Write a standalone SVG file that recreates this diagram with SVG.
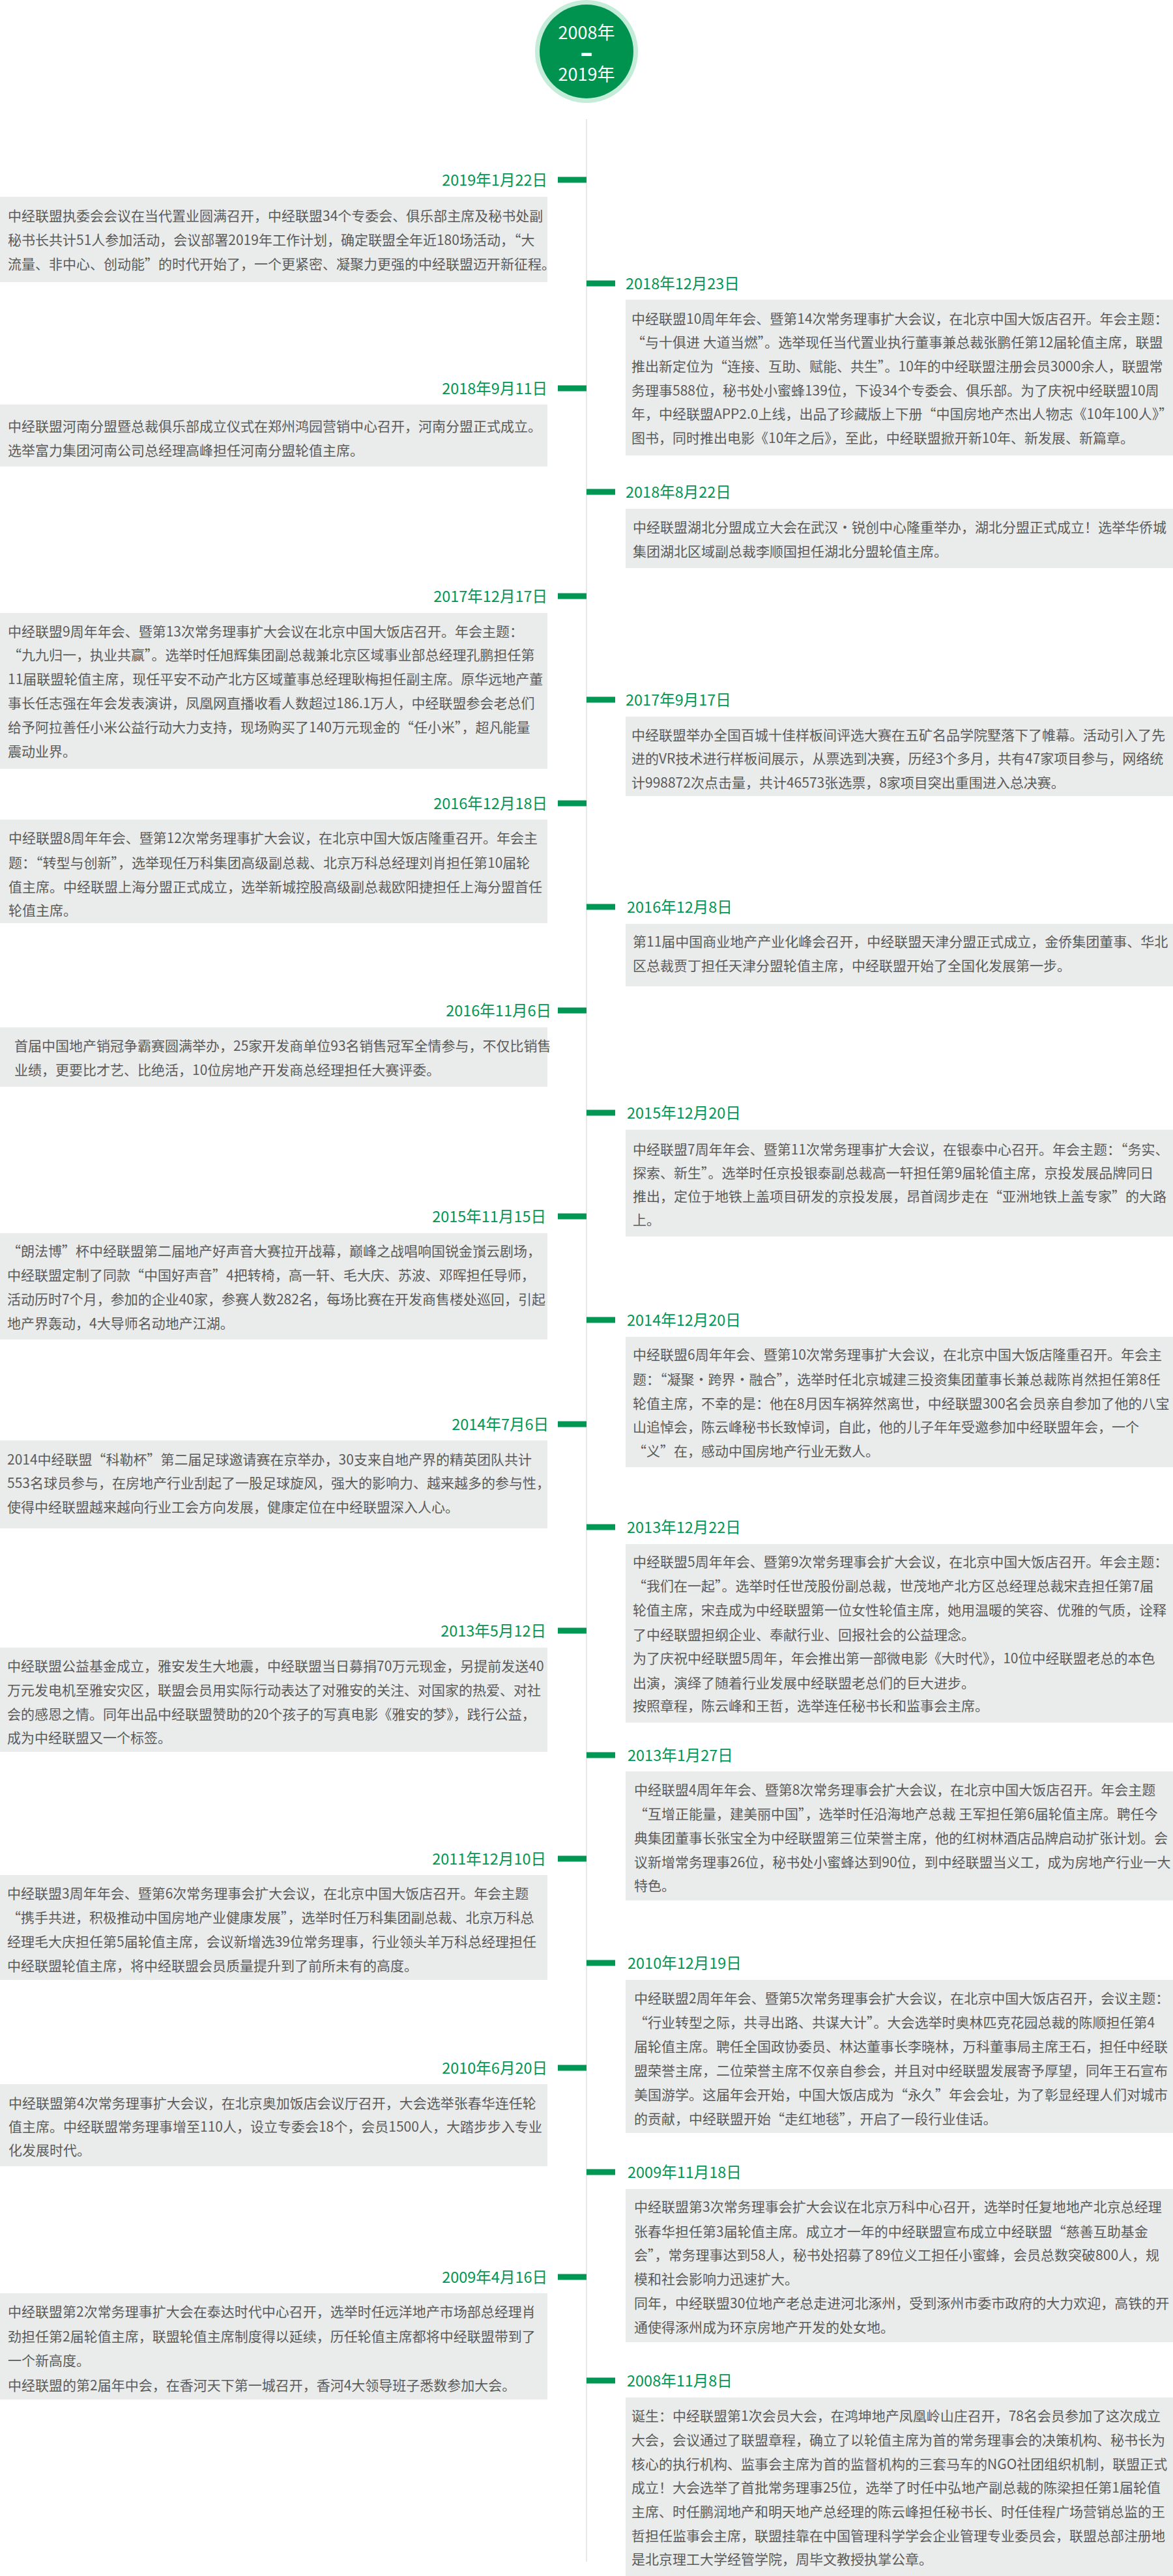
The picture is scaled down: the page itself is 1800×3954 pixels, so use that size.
<svg xmlns="http://www.w3.org/2000/svg" width="1800" height="3954" viewBox="0 0 1800 3954">
<style>
.box{fill:#e9ecea}
.t{font-family:"Noto Sans CJK SC","Noto Sans",sans-serif;font-size:21px;fill:#5b5b5b}
.d{font-family:"Noto Sans CJK SC","Noto Sans",sans-serif;font-size:23.5px;fill:#009654}
.dl{text-anchor:end}
.tick{fill:#009654}
.ct{font-family:"Noto Sans CJK SC","Noto Sans",sans-serif;font-size:27px;fill:#ffffff;text-anchor:middle}
</style>
<rect width="1800" height="3954" fill="#ffffff"/>
<g id="connectors">
<rect x="899" y="183" width="2" height="3749" fill="#e8e8e8"/>
<rect class="tick" x="856" y="271.5" width="44" height="9"/>
<rect class="tick" x="856" y="591.5" width="44" height="9"/>
<rect class="tick" x="856" y="910.5" width="44" height="9"/>
<rect class="tick" x="856" y="1228.5" width="44" height="9"/>
<rect class="tick" x="856" y="1546.5" width="44" height="9"/>
<rect class="tick" x="856" y="1862.5" width="44" height="9"/>
<rect class="tick" x="856" y="2181.5" width="44" height="9"/>
<rect class="tick" x="856" y="2498.5" width="44" height="9"/>
<rect class="tick" x="856" y="2848.5" width="44" height="9"/>
<rect class="tick" x="856" y="3169.5" width="44" height="9"/>
<rect class="tick" x="856" y="3490.5" width="44" height="9"/>
<rect class="tick" x="900" y="430.5" width="44" height="9"/>
<rect class="tick" x="900" y="750.5" width="44" height="9"/>
<rect class="tick" x="900" y="1069.5" width="44" height="9"/>
<rect class="tick" x="900" y="1387.5" width="44" height="9"/>
<rect class="tick" x="900" y="1703.5" width="44" height="9"/>
<rect class="tick" x="900" y="2021.5" width="44" height="9"/>
<rect class="tick" x="900" y="2339.5" width="44" height="9"/>
<rect class="tick" x="900" y="2689.5" width="44" height="9"/>
<rect class="tick" x="900" y="3008.5" width="44" height="9"/>
<rect class="tick" x="900" y="3329.5" width="44" height="9"/>
<rect class="tick" x="900" y="3649.5" width="44" height="9"/>
</g>
<g id="title">
<circle cx="900" cy="79" r="79" fill="#c4ecd8"/>
<circle cx="900" cy="79" r="72" fill="#00924f"/>
<text class="ct" x="900" y="60">2008年</text>
<text class="ct" x="900" y="91" style="font-family:'Liberation Sans',sans-serif;font-weight:bold" stroke="#ffffff" stroke-width="2">–</text>
<text class="ct" x="900" y="124">2019年</text>
</g>
<g id="e20190122">
<text class="d dl" x="840" y="284.5">2019年1月22日</text>
<rect class="box" x="0" y="302" width="840" height="131"/>
<text class="t" x="12"><tspan x="12" y="339">中经联盟执委会会议在当代置业圆满召开，中经联盟34个专委会、俱乐部主席及秘书处副</tspan><tspan x="12" y="376">秘书长共计51人参加活动，会议部署2019年工作计划，确定联盟全年近180场活动，“大</tspan><tspan x="12" y="413">流量、非中心、创动能”的时代开始了，一个更紧密、凝聚力更强的中经联盟迈开新征程。</tspan></text>
</g>
<g id="e20181223">
<text class="d" x="960" y="443.5">2018年12月23日</text>
<rect class="box" x="960" y="460" width="840" height="239"/>
<text class="t"><tspan x="969" y="497">中经联盟10周年年会、暨第14次常务理事扩大会议，在北京中国大饭店召开。年会主题：</tspan><tspan x="969" y="533">“与十俱进 大道当燃”。选举现任当代置业执行董事兼总裁张鹏任第12届轮值主席，联盟</tspan><tspan x="969" y="570">推出新定位为“连接、互助、赋能、共生”。10年的中经联盟注册会员3000余人，联盟常</tspan><tspan x="969" y="607">务理事588位，秘书处小蜜蜂139位，下设34个专委会、俱乐部。为了庆祝中经联盟10周</tspan><tspan x="969" y="643">年，中经联盟APP2.0上线，出品了珍藏版上下册“中国房地产杰出人物志《10年100人》”</tspan><tspan x="969" y="680">图书，同时推出电影《10年之后》，至此，中经联盟掀开新10年、新发展、新篇章。</tspan></text>
</g>
<g id="e20180911">
<text class="d dl" x="840" y="604.5">2018年9月11日</text>
<rect class="box" x="0" y="621" width="840" height="95"/>
<text class="t"><tspan x="12" y="662">中经联盟河南分盟暨总裁俱乐部成立仪式在郑州鸿园营销中心召开，河南分盟正式成立。</tspan><tspan x="12" y="699">选举富力集团河南公司总经理高峰担任河南分盟轮值主席。</tspan></text>
</g>
<g id="e20180822">
<text class="d" x="960" y="763.5">2018年8月22日</text>
<rect class="box" x="960" y="781" width="840" height="91"/>
<text class="t"><tspan x="971" y="817">中经联盟湖北分盟成立大会在武汉·锐创中心隆重举办，湖北分盟正式成立！选举华侨城</tspan><tspan x="971" y="854">集团湖北区域副总裁李顺国担任湖北分盟轮值主席。</tspan></text>
</g>
<g id="e20171217">
<text class="d dl" x="840" y="923.5">2017年12月17日</text>
<rect class="box" x="0" y="941" width="840" height="239"/>
<text class="t"><tspan x="12" y="977">中经联盟9周年年会、暨第13次常务理事扩大会议在北京中国大饭店召开。年会主题：</tspan><tspan x="12" y="1013">“九九归一，执业共赢”。选举时任旭辉集团副总裁兼北京区域事业部总经理孔鹏担任第</tspan><tspan x="12" y="1050">11届联盟轮值主席，现任平安不动产北方区域董事总经理耿梅担任副主席。原华远地产董</tspan><tspan x="12" y="1087">事长任志强在年会发表演讲，凤凰网直播收看人数超过186.1万人，中经联盟参会老总们</tspan><tspan x="12" y="1124">给予阿拉善任小米公益行动大力支持，现场购买了140万元现金的“任小米”，超凡能量</tspan><tspan x="12" y="1161">震动业界。</tspan></text>
</g>
<g id="e20170917">
<text class="d" x="960" y="1082.5">2017年9月17日</text>
<rect class="box" x="960" y="1100" width="840" height="122"/>
<text class="t"><tspan x="969" y="1136">中经联盟举办全国百城十佳样板间评选大赛在五矿名品学院墅落下了帷幕。活动引入了先</tspan><tspan x="969" y="1172">进的VR技术进行样板间展示，从票选到决赛，历经3个多月，共有47家项目参与，网络统</tspan><tspan x="969" y="1209">计998872次点击量，共计46573张选票，8家项目突出重围进入总决赛。</tspan></text>
</g>
<g id="e20161218">
<text class="d dl" x="840" y="1241.5">2016年12月18日</text>
<rect class="box" x="0" y="1258" width="840" height="159"/>
<text class="t"><tspan x="13" y="1294">中经联盟8周年年会、暨第12次常务理事扩大会议，在北京中国大饭店隆重召开。年会主</tspan><tspan x="13" y="1332">题：“转型与创新”，选举现任万科集团高级副总裁、北京万科总经理刘肖担任第10届轮</tspan><tspan x="13" y="1369">值主席。中经联盟上海分盟正式成立，选举新城控股高级副总裁欧阳捷担任上海分盟首任</tspan><tspan x="13" y="1405">轮值主席。</tspan></text>
</g>
<g id="e20161208">
<text class="d" x="962" y="1400.5">2016年12月8日</text>
<rect class="box" x="960" y="1418" width="840" height="96"/>
<text class="t"><tspan x="971" y="1453">第11届中国商业地产产业化峰会召开，中经联盟天津分盟正式成立，金侨集团董事、华北</tspan><tspan x="971" y="1490">区总裁贾丁担任天津分盟轮值主席，中经联盟开始了全国化发展第一步。</tspan></text>
</g>
<g id="e20161106">
<text class="d dl" x="846" y="1559.5">2016年11月6日</text>
<rect class="box" x="0" y="1577" width="840" height="91"/>
<text class="t"><tspan x="22" y="1613">首届中国地产销冠争霸赛圆满举办，25家开发商单位93名销售冠军全情参与，不仅比销售</tspan><tspan x="22" y="1650">业绩，更要比才艺、比绝活，10位房地产开发商总经理担任大赛评委。</tspan></text>
</g>
<g id="e20151220">
<text class="d" x="962" y="1716.5">2015年12月20日</text>
<rect class="box" x="960" y="1734" width="840" height="164"/>
<text class="t"><tspan x="971" y="1772">中经联盟7周年年会、暨第11次常务理事扩大会议，在银泰中心召开。年会主题：“务实、</tspan><tspan x="971" y="1808">探索、新生”。选举时任京投银泰副总裁高一轩担任第9届轮值主席，京投发展品牌同日</tspan><tspan x="971" y="1844">推出，定位于地铁上盖项目研发的京投发展，昂首阔步走在“亚洲地铁上盖专家”的大路</tspan><tspan x="971" y="1880">上。</tspan></text>
</g>
<g id="e20151115">
<text class="d dl" x="838" y="1875.5">2015年11月15日</text>
<rect class="box" x="0" y="1893" width="840" height="163"/>
<text class="t"><tspan x="11" y="1928">“朗法博”杯中经联盟第二届地产好声音大赛拉开战幕，巅峰之战唱响国锐金嵿云剧场，</tspan><tspan x="11" y="1965">中经联盟定制了同款“中国好声音”4把转椅，高一轩、毛大庆、苏波、邓晖担任导师，</tspan><tspan x="11" y="2002">活动历时7个月，参加的企业40家，参赛人数282名，每场比赛在开发商售楼处巡回，引起</tspan><tspan x="11" y="2039">地产界轰动，4大导师名动地产江湖。</tspan></text>
</g>
<g id="e20141220">
<text class="d" x="962" y="2034.5">2014年12月20日</text>
<rect class="box" x="960" y="2052" width="840" height="200"/>
<text class="t"><tspan x="971" y="2087">中经联盟6周年年会、暨第10次常务理事扩大会议，在北京中国大饭店隆重召开。年会主</tspan><tspan x="971" y="2125">题：“凝聚·跨界·融合”，选举时任北京城建三投资集团董事长兼总裁陈肖然担任第8任</tspan><tspan x="971" y="2162">轮值主席，不幸的是：他在8月因车祸猝然离世，中经联盟300名会员亲自参加了他的八宝</tspan><tspan x="971" y="2198">山追悼会，陈云峰秘书长致悼词，自此，他的儿子年年受邀参加中经联盟年会，一个</tspan><tspan x="971" y="2235">“义”在，感动中国房地产行业无数人。</tspan></text>
</g>
<g id="e20140706">
<text class="d dl" x="842" y="2194.5">2014年7月6日</text>
<rect class="box" x="0" y="2211" width="840" height="135"/>
<text class="t"><tspan x="11" y="2248">2014中经联盟“科勒杯”第二届足球邀请赛在京举办，30支来自地产界的精英团队共计</tspan><tspan x="11" y="2284">553名球员参与，在房地产行业刮起了一股足球旋风，强大的影响力、越来越多的参与性，</tspan><tspan x="11" y="2321">使得中经联盟越来越向行业工会方向发展，健康定位在中经联盟深入人心。</tspan></text>
</g>
<g id="e20131222">
<text class="d" x="962" y="2352.5">2013年12月22日</text>
<rect class="box" x="960" y="2370" width="840" height="274"/>
<text class="t"><tspan x="971" y="2405">中经联盟5周年年会、暨第9次常务理事会扩大会议，在北京中国大饭店召开。年会主题：</tspan><tspan x="971" y="2442">“我们在一起”。选举时任世茂股份副总裁，世茂地产北方区总经理总裁宋垚担任第7届</tspan><tspan x="971" y="2479">轮值主席，宋垚成为中经联盟第一位女性轮值主席，她用温暖的笑容、优雅的气质，诠释</tspan><tspan x="971" y="2517">了中经联盟担纲企业、奉献行业、回报社会的公益理念。</tspan><tspan x="971" y="2553">为了庆祝中经联盟5周年，年会推出第一部微电影《大时代》，10位中经联盟老总的本色</tspan><tspan x="971" y="2591">出演，演绎了随着行业发展中经联盟老总们的巨大进步。</tspan><tspan x="971" y="2626">按照章程，陈云峰和王哲，选举连任秘书长和监事会主席。</tspan></text>
</g>
<g id="e20130512">
<text class="d dl" x="838" y="2511.5">2013年5月12日</text>
<rect class="box" x="0" y="2529" width="840" height="160"/>
<text class="t"><tspan x="11" y="2565">中经联盟公益基金成立，雅安发生大地震，中经联盟当日募捐70万元现金，另提前发送40</tspan><tspan x="11" y="2602">万元发电机至雅安灾区，联盟会员用实际行动表达了对雅安的关注、对国家的热爱、对社</tspan><tspan x="11" y="2639">会的感恩之情。同年出品中经联盟赞助的20个孩子的写真电影《雅安的梦》，践行公益，</tspan><tspan x="11" y="2675">成为中经联盟又一个标签。</tspan></text>
</g>
<g id="e20130127">
<text class="d" x="963" y="2702.5">2013年1月27日</text>
<rect class="box" x="960" y="2719" width="840" height="198"/>
<text class="t"><tspan x="973" y="2755">中经联盟4周年年会、暨第8次常务理事会扩大会议，在北京中国大饭店召开。年会主题</tspan><tspan x="973" y="2792">“互增正能量，建美丽中国”，选举时任沿海地产总裁 王军担任第6届轮值主席。聘任今</tspan><tspan x="973" y="2829">典集团董事长张宝全为中经联盟第三位荣誉主席，他的红树林酒店品牌启动扩张计划。会</tspan><tspan x="973" y="2866">议新增常务理事26位，秘书处小蜜蜂达到90位，到中经联盟当义工，成为房地产行业一大</tspan><tspan x="973" y="2902">特色。</tspan></text>
</g>
<g id="e20111210">
<text class="d dl" x="838" y="2861.5">2011年12月10日</text>
<rect class="box" x="0" y="2878" width="840" height="161"/>
<text class="t"><tspan x="11" y="2914">中经联盟3周年年会、暨第6次常务理事会扩大会议，在北京中国大饭店召开。年会主题</tspan><tspan x="11" y="2951">“携手共进，积极推动中国房地产业健康发展”，选举时任万科集团副总裁、北京万科总</tspan><tspan x="11" y="2988">经理毛大庆担任第5届轮值主席，会议新增选39位常务理事，行业领头羊万科总经理担任</tspan><tspan x="11" y="3025">中经联盟轮值主席，将中经联盟会员质量提升到了前所未有的高度。</tspan></text>
</g>
<g id="e20101219">
<text class="d" x="963" y="3021.5">2010年12月19日</text>
<rect class="box" x="960" y="3039" width="840" height="235"/>
<text class="t"><tspan x="973" y="3075">中经联盟2周年年会、暨第5次常务理事会扩大会议，在北京中国大饭店召开，会议主题：</tspan><tspan x="973" y="3112">“行业转型之际，共寻出路、共谋大计”。大会选举时奥林匹克花园总裁的陈顺担任第4</tspan><tspan x="973" y="3149">届轮值主席。聘任全国政协委员、林达董事长李晓林，万科董事局主席王石，担任中经联</tspan><tspan x="973" y="3186">盟荣誉主席，二位荣誉主席不仅亲自参会，并且对中经联盟发展寄予厚望，同年王石宣布</tspan><tspan x="973" y="3223">美国游学。这届年会开始，中国大饭店成为“永久”年会会址，为了彰显经理人们对城市</tspan><tspan x="973" y="3260">的贡献，中经联盟开始“走红地毯”，开启了一段行业佳话。</tspan></text>
</g>
<g id="e20100620">
<text class="d dl" x="840" y="3182.5">2010年6月20日</text>
<rect class="box" x="0" y="3199" width="840" height="126"/>
<text class="t"><tspan x="13" y="3236">中经联盟第4次常务理事扩大会议，在北京奥加饭店会议厅召开，大会选举张春华连任轮</tspan><tspan x="13" y="3272">值主席。中经联盟常务理事增至110人，设立专委会18个，会员1500人，大踏步步入专业</tspan><tspan x="13" y="3308">化发展时代。</tspan></text>
</g>
<g id="e20091118">
<text class="d" x="963" y="3342.5">2009年11月18日</text>
<rect class="box" x="960" y="3360" width="840" height="235"/>
<text class="t"><tspan x="973" y="3395">中经联盟第3次常务理事会扩大会议在北京万科中心召开，选举时任复地地产北京总经理</tspan><tspan x="973" y="3433">张春华担任第3届轮值主席。成立才一年的中经联盟宣布成立中经联盟“慈善互助基金</tspan><tspan x="973" y="3469">会”，常务理事达到58人，秘书处招募了89位义工担任小蜜蜂，会员总数突破800人，规</tspan><tspan x="973" y="3506">模和社会影响力迅速扩大。</tspan><tspan x="973" y="3543">同年，中经联盟30位地产老总走进河北涿州，受到涿州市委市政府的大力欢迎，高铁的开</tspan><tspan x="973" y="3580">通使得涿州成为环京房地产开发的处女地。</tspan></text>
</g>
<g id="e20090416">
<text class="d dl" x="840" y="3503.5">2009年4月16日</text>
<rect class="box" x="0" y="3520" width="840" height="163"/>
<text class="t"><tspan x="12" y="3556">中经联盟第2次常务理事扩大会在泰达时代中心召开，选举时任远洋地产市场部总经理肖</tspan><tspan x="12" y="3594">劲担任第2届轮值主席，联盟轮值主席制度得以延续，历任轮值主席都将中经联盟带到了</tspan><tspan x="12" y="3631">一个新高度。</tspan><tspan x="12" y="3669">中经联盟的第2届年中会，在香河天下第一城召开，香河4大领导班子悉数参加大会。</tspan></text>
</g>
<g id="e20081108">
<text class="d" x="962" y="3662.5">2008年11月8日</text>
<rect class="box" x="960" y="3680" width="840" height="274"/>
<text class="t"><tspan x="969" y="3716">诞生：中经联盟第1次会员大会，在鸿坤地产凤凰岭山庄召开，78名会员参加了这次成立</tspan><tspan x="969" y="3753">大会，会议通过了联盟章程，确立了以轮值主席为首的常务理事会的决策机构、秘书长为</tspan><tspan x="969" y="3790">核心的执行机构、监事会主席为首的监督机构的三套马车的NGO社团组织机制，联盟正式</tspan><tspan x="969" y="3826">成立！大会选举了首批常务理事25位，选举了时任中弘地产副总裁的陈梁担任第1届轮值</tspan><tspan x="969" y="3863">主席、时任鹏润地产和明天地产总经理的陈云峰担任秘书长、时任佳程广场营销总监的王</tspan><tspan x="969" y="3900">哲担任监事会主席，联盟挂靠在中国管理科学学会企业管理专业委员会，联盟总部注册地</tspan><tspan x="969" y="3936">是北京理工大学经管学院，周毕文教授执掌公章。</tspan></text>
</g>
</svg>
